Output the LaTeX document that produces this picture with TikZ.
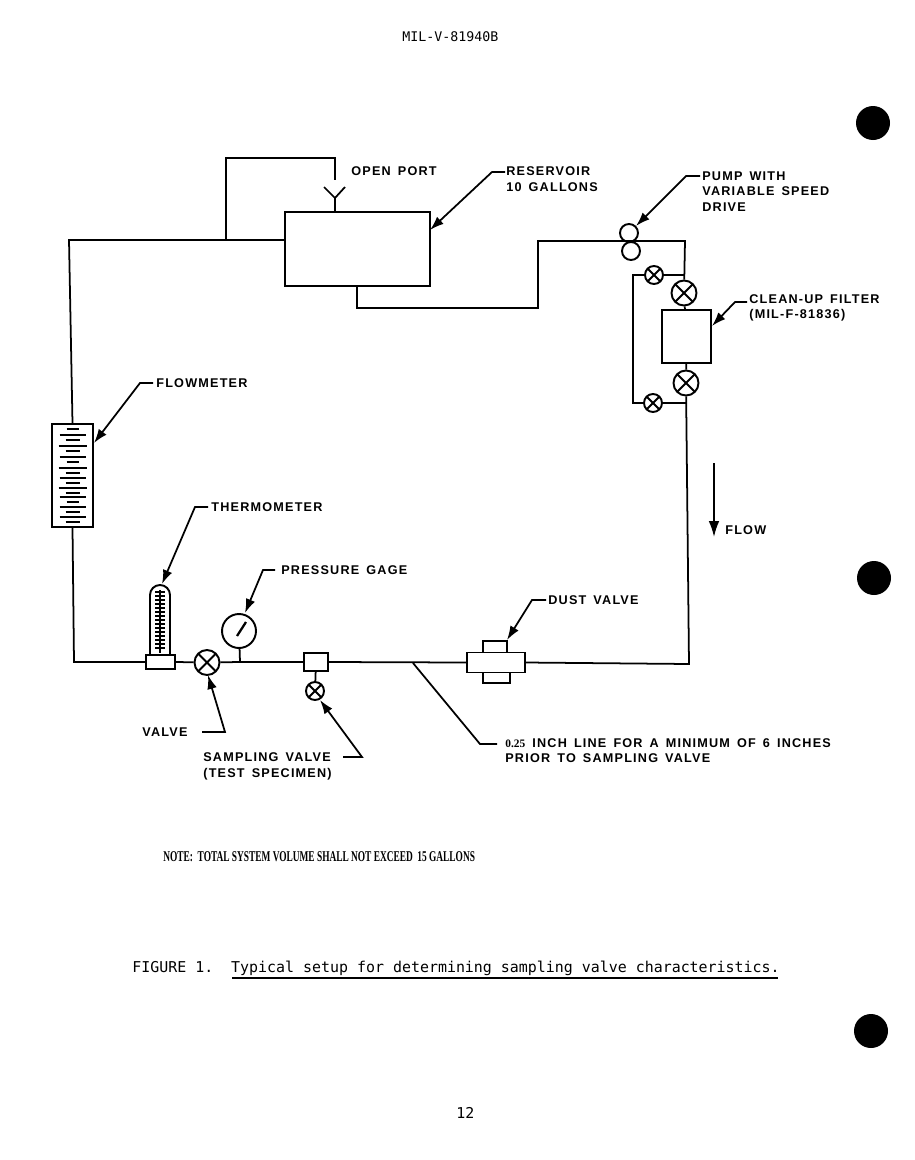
\documentclass[tikz,border=0pt]{standalone}
\usepackage{graphicx}
\usepackage{fontspec}
\setmainfont{Liberation Sans}
\setmonofont{DejaVu Sans Mono}
\newfontfamily\labelfont[LetterSpace=9.5,WordSpace=1.5]{Liberation Sans}
\newfontfamily\notefont{Liberation Serif}
\usetikzlibrary{arrows.meta}

\begin{document}
\begin{tikzpicture}[x=0.02cm,y=-0.02cm]
  \tikzstyle{pipe}=[line width=1pt]
  \tikzstyle{leader}=[line width=1pt,-{Latex[length=8pt,width=5.5pt]}]
  \tikzstyle{part}=[draw,line width=1.1pt,fill=white,inner sep=0pt]
  \tikzstyle{tag}=[font=\labelfont\bfseries\fontsize{7.2}{8.7}\selectfont,align=left,anchor=west,inner sep=0pt]
  \tikzstyle{typed}=[font=\ttfamily\fontsize{8.5}{10}\selectfont,anchor=west,inner sep=0pt]
  \tikzstyle{valve}=[part,circle,path picture={
    \draw[line width=1.1pt] (path picture bounding box.north west)--(path picture bounding box.south east)
      (path picture bounding box.north east)--(path picture bounding box.south west);}]
  \tikzstyle{hole}=[circle,fill=black,minimum size=0.68cm,inner sep=0pt]

  \useasboundingbox (0,0) rectangle (914,1160);

  \node[typed,font=\ttfamily\fontsize{7.56}{10}\selectfont] (page) at (402,36.5) {MIL-V-81940B};
  \node[typed] (num) at (456,1113) {12};
  \node[hole] (h1) at (873,123) {}; % Punched holes
  \node[hole] (h2) at (874,578) {};
  \node[hole] (h3) at (871,1031) {};

  % Corners of the main loop
  \coordinate (a1) at (69,240);
  \coordinate (a2) at (74,662);
  \coordinate (a3) at (689,664);
  \coordinate (a4) at (685,241);
  \coordinate (a5) at (538,241);
  \coordinate (a6) at (538,308);
  \coordinate (a7) at (357,308);
  \coordinate (b1) at (687,403);
  \coordinate (b2) at (633,403);
  \coordinate (b3) at (633,275);
  \coordinate (b4) at (685,275);
  \coordinate (o1) at (226,240);
  \coordinate (o2) at (226,158);
  \coordinate (o3) at (335,158);
  \coordinate (o4) at (335,180);
  \coordinate (y1) at (324,187);
  \coordinate (y2) at (345,187);
  \coordinate (y3) at (335,198);
  \coordinate (gtee) at (240,662);

  \node[part,minimum width=2.9cm,minimum height=1.48cm] (res) at (357.5,249) {}; % Reservoir
  \node[part,minimum width=0.82cm,minimum height=2.06cm] (fm) at (72.5,475.5) {}; % Flowmeter
  \node[part,minimum width=0.98cm,minimum height=1.06cm] (filt) at (686.5,336.5) {}; % Filter
  \node[part,minimum width=0.58cm,minimum height=0.28cm] (tbase) at (160.5,662) {}; % Thermometer base
  \node[part,minimum width=0.48cm,minimum height=0.36cm] (samp) at (316,662) {}; % Sampling block
  \node[part,minimum width=1.16cm,minimum height=0.4cm] (dust) at (496,662.5) {}; % Dust valve body
  \node[valve,minimum size=0.5cm] (v1) at (207,662.5) {}; % Valve
  \node[valve,minimum size=0.5cm] (v2) at (684,293) {};
  \node[valve,minimum size=0.5cm] (v3) at (686,383) {};
  \node[valve,minimum size=0.36cm] (v4) at (654,275) {};
  \node[valve,minimum size=0.36cm] (v5) at (653,403) {};
  \node[valve,minimum size=0.36cm] (v6) at (315,691) {}; % Sampling valve
  \node[part,circle,minimum size=0.68cm] (gauge) at (239,631) {}; % Gauge dial
  \node[part,circle,minimum size=0.36cm] (p1) at (629,233) {}; % Pump rollers
  \node[part,circle,minimum size=0.36cm] (p2) at (631,251) {};

  \draw[pipe] (res.west|-a1) -- (a1) -- (fm.north);
  \draw[pipe] (fm.south) -- (a2) -- (tbase.west);
  \draw[pipe] (tbase.east) -- (v1);
  \draw[pipe] (v1) -- (gtee) -- (samp.west);
  \draw[pipe] (gtee) -- (gauge);
  \draw[pipe] (samp.east) -- (dust.west);
  \draw[pipe] (samp) -- (v6);
  \draw[pipe] (dust.east) -- (a3) -- (v3);
  \draw[pipe] (v3) -- (filt);
  \draw[pipe] (filt) -- (v2);
  \draw[pipe] (v2) -- (a4) -- (a5) -- (a6) -- (a7) -- (a7|-res.south);
  \draw[pipe] (b1) -- (v5) -- (b2) -- (b3) -- (v4) -- (b4);
  \draw[pipe] (o1) -- (o2) -- (o3) -- (o4);
  \draw[pipe] (y1) -- (y3) -- (y2); % Open port
  \draw[pipe] (y3) -- (res.north-|y3);

  % Dust valve caps
  \draw[line width=1.1pt] (483,652) -- (483,641) -- (507,641) -- (507,652);
  \draw[line width=1.1pt] (483,673) -- (483,683) -- (510,683) -- (510,673);

  % Gauge needle
  \draw[line width=1.3pt] (237,636) -- (246,622);

  % Thermometer tube
  \draw[line width=1.1pt] (150,655) -- (150,595) arc (180:360:10) -- (170,655);
  \foreach \yy in {592,596,...,650}
    \draw[line width=0.6pt] (155,\yy) -- (165,\yy);
  \draw[line width=1.2pt] (160,590) -- (160,653);

  % Flowmeter scale
  \foreach \yy/\wa in {429/6,435/13,440/7,446/14,451/7,457/13,462/6,468/14,473/7,478/13,483/7,488/14,493/7,497/13,502/6,507/13,512/7,517/13,522/7}
    \draw[line width=0.8pt] (72.5-\wa,\yy) -- (72.5+\wa,\yy);

  % Labels and their leaders
  \node[tag] (lopen) at (351,171.5) {OPEN PORT};
  \node[tag] (lres) at (506,179) {RESERVOIR\\10 GALLONS};
  \node[tag] (lpump) at (702,191.5) {PUMP WITH\\VARIABLE SPEED\\DRIVE};
  \node[tag] (lfilt) at (749,308) {CLEAN-UP FILTER\\(MIL-F-81836)};
  \node[tag] (lflow) at (156,383) {FLOWMETER};
  \node[tag] (ltherm) at (211,507.5) {THERMOMETER};
  \node[tag] (lpress) at (281,570) {PRESSURE GAGE};
  \node[tag] (ldust) at (548,600) {DUST VALVE};
  \node[tag] (lvalve) at (142,732) {VALVE};
  \node[tag] (lsamp) at (203,766.5) {SAMPLING VALVE\\(TEST SPECIMEN)};
  \node[tag] (lline) at (505,750.5) {{\notefont\fontsize{6.5}{8.7}\selectfont 0.25} INCH LINE FOR A MINIMUM OF 6 INCHES\\PRIOR TO SAMPLING VALVE};
  \node[tag] (lfw) at (725,530.5) {FLOW};

  \coordinate (s1) at (505,172);
  \coordinate (s2) at (700,176);
  \coordinate (s3) at (747,302);
  \coordinate (s4) at (153,383);
  \coordinate (s5) at (208,507);
  \coordinate (s6) at (275,570);
  \coordinate (s7) at (546,600);
  \coordinate (s8) at (202,732);
  \coordinate (s9) at (343,757);
  \coordinate (s10) at (497,744);
  \coordinate (k1) at (492,172);
  \coordinate (k2) at (686,176);
  \coordinate (k3) at (735,302);
  \coordinate (k4) at (140,383);
  \coordinate (k5) at (195,507);
  \coordinate (k6) at (263,570);
  \coordinate (k7) at (532,600);
  \coordinate (k8) at (225,732);
  \coordinate (k9) at (362,757);
  \coordinate (k10) at (480,744);
  \coordinate (t1) at (430,230);
  \coordinate (t2) at (712,326);
  \coordinate (t3) at (94,443);
  \coordinate (t4) at (162,584);
  \coordinate (t5) at (245,613);
  \coordinate (t6) at (507,640);
  \coordinate (t7) at (208,675);
  \coordinate (t8) at (320,700);
  \coordinate (t9) at (413,663);
  \coordinate (f1) at (714,463);
  \coordinate (f2) at (714,537);

  \draw[leader] (s1) -- (k1) -- (t1);
  \draw[leader] (s2) -- (k2) -- (p1);
  \draw[leader] (s3) -- (k3) -- (t2);
  \draw[leader] (s4) -- (k4) -- (t3);
  \draw[leader] (s5) -- (k5) -- (t4);
  \draw[leader] (s6) -- (k6) -- (t5);
  \draw[leader] (s7) -- (k7) -- (t6);
  \draw[leader] (s8) -- (k8) -- (t7);
  \draw[leader] (s9) -- (k9) -- (t8);
  \draw[line width=1pt] (s10) -- (k10) -- (t9);
  \draw[line width=1pt,-{Latex[length=9pt,width=6pt]}] (f1) -- (f2); % Flow arrow

  \node[anchor=west,inner sep=0pt,font=\notefont\bfseries\fontsize{8.5}{9}\selectfont] (note) at (163,857)
    {\scalebox{0.627}[1]{NOTE:\ \ TOTAL SYSTEM VOLUME SHALL NOT EXCEED\ \ 15 GALLONS}};
  \node[typed] (cap) at (132,968.5) {FIGURE 1.\ \ Typical setup for determining sampling valve characteristics.};
  \coordinate (u1) at (232,978);
  \coordinate (u2) at (778,978);
  \draw[line width=0.7pt] (u1) -- (u2); % Caption rule
\end{tikzpicture}
\end{document}
